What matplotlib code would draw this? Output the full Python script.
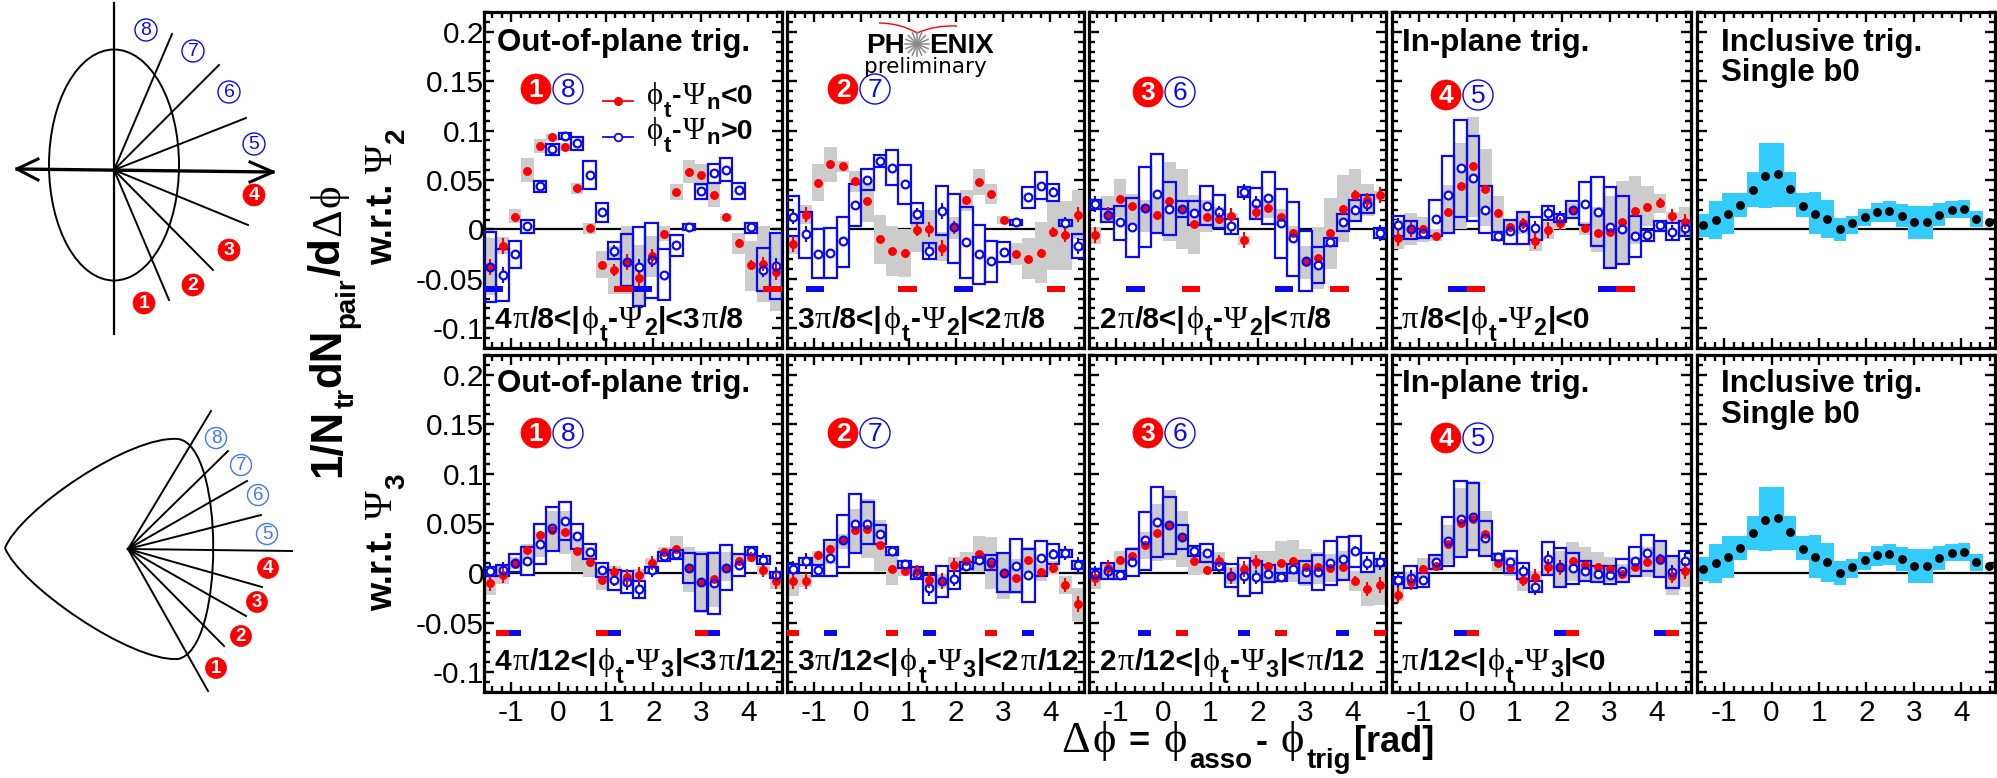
import re
import numpy as np
import matplotlib
matplotlib.use('Agg')
import matplotlib.pyplot as plt
from matplotlib.patches import Circle, Ellipse, PathPatch
from matplotlib.path import Path
from matplotlib.ticker import MultipleLocator

plt.rcParams['font.family'] = ['Liberation Sans', 'DejaVu Sans']
plt.rcParams['axes.unicode_minus'] = False

W, H = 1997, 778
n_bins = 24
bin_w = 2 * np.pi / n_bins
centers = -np.pi / 2 + (np.arange(n_bins) + 0.5) * bin_w

# all yields below are in units of 1e-3
# shared size of the statistical error bars
stat_err = [8, 8, 4, 3, 3, 3, 3, 3, 3, 4, 6, 8, 8, 7, 4, 3, 3, 3, 3, 3, 4, 5, 7, 8]

# w.r.t. Psi2, bin 1/8
t1_red = [-38, -17, 13, 59, 84, 94, 83, 42, 1, -36, -41, -33, -49, -27, -5, 38, 58, 55, 35, 13, -14, -36, -35, -43]
t1_red_hi = [-9, -8, 21, 72, 91, 97, 87, 47, 6, -22, -17, 3, -16, -7, 3, 46, 70, 66, 48, 16, -4, -12, 3, -3]
t1_red_lo = [-66, -25, 6, 48, 77, 89, 79, 36, -5, -49, -65, -65, -78, -48, -12, 30, 47, 44, 23, 9, -25, -62, -73, -83]
t1_blue = [-38, -46, -25, 3, 44, 81, 95, 87, 55, 18, -22, -33, -38, -31, -46, -16, 2, 39, 57, 60, 40, 2, -41, -37]
t1_blue_hi = [-3, -20, -12, 10, 49, 86, 98, 94, 69, 27, -13, -5, 2, 6, -20, -6, 5, 46, 66, 72, 47, 6, -19, -4]
t1_blue_lo = [-73, -72, -39, -4, 38, 75, 91, 80, 41, 8, -30, -57, -77, -69, -71, -27, -1, 31, 47, 49, 31, -4, -62, -70]

# w.r.t. Psi2, bin 2/7
t2_red = [-15, 15, 47, 66, 64, 49, 29, -10, -22, -24, -1, 0, -19, 2, 30, 48, 36, 10, -25, -30, -24, -3, -6, 15]
t2_red_hi = [-7, 25, 66, 83, 69, 59, 50, 15, 3, 0, 20, 20, -3, 13, 40, 61, 46, 14, -14, -9, 7, 28, 29, 40]
t2_red_lo = [-25, 5, 29, 48, 58, 38, 7, -35, -47, -48, -23, -20, -32, -10, 19, 35, 26, 5, -36, -50, -54, -41, -41, -10]
t2_blue = [13, -5, -25, -24, -12, 25, 50, 69, 62, 46, 16, -22, 19, 2, -13, -25, -32, -23, 7, 33, 44, 38, 6, -17]
t2_blue_hi = [34, 18, 0, 1, 13, 46, 61, 75, 80, 65, 27, -14, 44, 36, 23, 4, -12, -13, 10, 43, 58, 46, 10, -5]
t2_blue_lo = [-7, -29, -49, -49, -38, 3, 40, 63, 45, 26, 6, -30, -6, -34, -49, -55, -53, -33, 4, 22, 31, 29, 3, -29]

# w.r.t. Psi2, bin 3/6
t3_red = [-6, 15, 31, 24, 22, 15, 29, 21, 5, 13, 11, 14, -11, 18, 22, 13, -4, -33, -29, -4, 21, 35, 30, 35]
t3_red_hi = [2, 34, 51, 36, 30, 34, 68, 61, 35, 30, 23, 17, -7, 27, 34, 21, 3, -17, 2, 32, 55, 61, 46, 39]
t3_red_lo = [-15, 8, 13, 3, -3, -3, -12, -20, -25, -3, 0, 10, -16, 10, 12, 3, -12, -50, -60, -40, -13, 8, 14, 30]
t3_blue = [26, 15, 7, 2, 22, 36, 21, 21, 17, 24, 18, 3, 38, 27, 32, 6, -9, -32, -36, -13, 7, 20, 26, -4]
t3_blue_hi = [30, 21, 24, 32, 63, 76, 48, 29, 29, 44, 35, 11, 43, 42, 58, 41, 28, -2, -18, -9, 16, 30, 35, 1]
t3_blue_lo = [21, 8, -11, -28, -18, -4, -6, 13, 4, 4, 1, -5, 33, 11, 5, -29, -47, -62, -54, -17, -2, 9, 17, -9]

# w.r.t. Psi2, bin 4/5
t4_red = [-9, 0, 0, -7, 18, 44, 64, 41, 17, 2, 6, -12, -1, 6, 20, 1, -4, -3, 8, 19, 23, 27, 14, 8]
t4_red_hi = [10, 17, 13, 0, 45, 87, 114, 81, 34, 10, 17, -2, 8, 12, 27, 8, 23, 34, 49, 54, 44, 36, 18, 23]
t4_red_lo = [-20, -16, -13, -12, -3, 0, 13, 3, -2, -7, -5, -22, -10, 0, 13, -6, -23, -39, -34, -15, 3, 17, 8, -8]
t4_blue = [4, 0, -4, 11, 35, 62, 52, 20, -7, -2, 2, 1, 17, 12, 20, 26, 18, 2, 0, -7, -6, 4, -3, 1]
t4_blue_hi = [14, 9, 0, 30, 74, 111, 95, 44, -3, 10, 18, 13, 24, 16, 29, 48, 53, 43, 34, 14, -1, 9, 6, 9]
t4_blue_lo = [-7, -10, -9, -7, -4, 13, 9, -4, -11, -15, -15, -11, 10, 8, 12, 4, -17, -39, -35, -28, -12, -2, -11, -7]

# inclusive trigger, same in both rows
inc = [4, 10, 16, 25, 40, 54, 56, 41, 24, 16, 11, 0, 6, 13, 18, 19, 14, 7, 7, 15, 20, 21, 11, 7]
inc_hi = [16, 29, 37, 37, 58, 87, 87, 58, 37, 38, 30, 12, 14, 21, 27, 29, 26, 24, 24, 27, 29, 30, 19, 7]
inc_lo = [-8, -10, -5, 13, 23, 22, 23, 23, 13, -5, -9, -12, -5, 3, 7, 8, 2, -10, -10, 3, 12, 12, 2, 7]

# w.r.t. Psi3, bin 1/8
b1_red = [-10, -2, 9, 23, 38, 43, 41, 22, 11, -7, 1, -4, -2, 10, 21, 24, 5, -9, -6, 5, 12, 16, 3, -8]
b1_red_hi = [0, 7, 16, 29, 41, 63, 63, 41, 26, 2, 7, 1, 4, 15, 26, 37, 26, 22, 22, 21, 19, 22, 7, -2]
b1_red_lo = [-22, -11, 4, 9, 16, 22, 19, 2, -4, -17, -8, -13, -9, 4, 15, 13, -19, -40, -34, -8, 6, 11, -2, -16]
b1_blue = [2, 3, 10, 12, 29, 45, 53, 37, 21, 3, -7, -9, -16, 3, 17, 19, 5, -9, -10, 5, 8, 22, 13, -2]
b1_blue_hi = [6, 8, 19, 26, 49, 67, 72, 49, 29, 10, 3, 2, -8, 6, 21, 23, 20, 19, 20, 28, 19, 26, 17, 1]
b1_blue_lo = [-3, -3, 1, -2, 9, 22, 33, 24, 14, -4, -17, -20, -25, 0, 12, 14, -10, -38, -41, -17, -3, 18, 9, -5]

# w.r.t. Psi3, bin 2/7
b2_red = [-8, -8, 18, 24, 33, 43, 44, 28, 4, 2, 2, -7, -8, 8, 12, 19, 9, 0, -5, 13, 1, 5, -12, -31]
b2_red_hi = [-1, -2, 22, 31, 39, 65, 75, 54, 19, 9, 7, -2, -1, 16, 21, 37, 36, 21, 14, 26, 9, 12, -3, -15]
b2_red_lo = [-23, -14, 9, 9, 24, 20, 15, 2, -12, -3, -4, -14, -15, 1, 2, 1, -16, -26, -21, 1, -8, -1, -21, -48]
b2_blue = [4, 12, 3, 15, 33, 49, 50, 39, 22, 9, -1, -15, -8, -6, 7, 13, 11, 0, 7, -2, 15, 19, 20, 8]
b2_blue_hi = [9, 15, 8, 33, 59, 80, 72, 48, 26, 12, 6, -2, 7, 2, 11, 16, 18, 20, 34, 24, 32, 29, 23, 12]
b2_blue_lo = [0, 8, -3, -3, 6, 20, 29, 29, 18, 5, -6, -30, -24, -16, 4, 10, 3, -19, -19, -29, -3, 9, 16, 4]

# w.r.t. Psi3, bin 3/6
b3_red = [-5, 5, 13, 17, 28, 40, 48, 36, 12, 3, 12, -3, 4, 11, 7, 10, 12, 6, 6, 5, 6, -8, -16, -12]
b3_red_hi = [6, 9, 22, 26, 41, 70, 84, 63, 26, 21, 21, 6, 9, 22, 22, 32, 33, 24, 21, 19, 22, 2, 1, 6]
b3_red_lo = [-16, -6, 2, 9, 14, 12, 13, 6, -2, -1, 2, -11, -4, -1, -8, -9, -9, -13, -11, -9, -8, -18, -33, -32]
b3_blue = [-1, 2, -2, 11, 33, 52, 48, 36, 22, 20, 7, -3, -3, -4, -1, -4, 4, 1, 1, 10, 14, 22, 10, 11]
b3_blue_hi = [4, 10, 2, 24, 62, 87, 77, 48, 27, 29, 10, 9, 15, 12, 8, 0, 9, 12, 18, 32, 36, 37, 20, 14]
b3_blue_lo = [-5, -6, -6, -3, 3, 16, 19, 24, 17, 11, 3, -14, -23, -20, -9, -8, 0, -10, -17, -12, -7, 6, 1, 7]

# w.r.t. Psi3, bin 4/5
b4_red = [-22, -9, 4, 7, 29, 51, 55, 39, 10, 5, -7, -4, 6, 5, 12, 8, 6, 4, -1, 6, 11, 13, -3, 2]
b4_red_hi = [-4, 1, 15, 17, 48, 86, 93, 63, 21, 16, 4, 2, 16, 22, 31, 26, 21, 16, 9, 16, 26, 31, 16, 12]
b4_red_lo = [-28, -16, -6, 2, 9, 16, 22, 16, 2, -3, -18, -9, -3, -13, -8, -8, -8, -9, -9, -4, -4, -4, -22, -14]
b4_blue = [-7, -5, -7, 11, 32, 55, 57, 35, 16, 11, 2, -14, 14, 6, 5, 2, -1, -2, 2, 12, 20, 14, 1, 12]
b4_blue_hi = [-4, 7, 0, 18, 57, 93, 91, 53, 19, 22, 10, -8, 31, 25, 20, 12, 7, 7, 14, 26, 38, 32, 17, 22]
b4_blue_lo = [-11, -15, -14, 4, 7, 16, 23, 17, 13, 0, -6, -19, -2, -14, -11, -8, -9, -11, -9, -3, 2, -4, -15, 3]

# start of the ZYAM range bars, in radians
t_blue_bars = [[-1.571, 1.571], [-1.178, 1.964], [-0.785, 2.356], [-0.393, 2.749]]
t_red_bars = [[1.178, 4.320], [0.785, 3.927], [0.393, 3.534], [0.0, 3.142]]
b_blue_bars = [[-1.047, 1.047, 3.142], [-0.785, 1.309, 3.403], [-0.524, 1.571, 3.665], [-0.262, 1.833, 3.927]]
b_red_bars = [[-1.309, 0.785, 2.880], [-1.571, 0.524, 2.618], [0.262, 2.356, 4.451], [0.0, 2.094, 4.189]]

top_labels = ['4π/8<|ϕ_t-Ψ_2|<3π/8', '3π/8<|ϕ_t-Ψ_2|<2π/8', '2π/8<|ϕ_t-Ψ_2|<π/8', 'π/8<|ϕ_t-Ψ_2|<0']
bot_labels = ['4π/12<|ϕ_t-Ψ_3|<3π/12', '3π/12<|ϕ_t-Ψ_3|<2π/12', '2π/12<|ϕ_t-Ψ_3|<π/12', 'π/12<|ϕ_t-Ψ_3|<0']
titles = ['Out-of-plane trig.', None, None, 'In-plane trig.']
y_ticks = [-0.1, -0.05, 0, 0.05, 0.1, 0.15, 0.2]
y_ticklabels = ['-0.1', '-0.05', '0', '0.05', '0.1', '0.15', '0.2']
x_ticks = [-1, 0, 1, 2, 3, 4]

RED = '#ff0000'
BLUE = '#0a0af0'
GRAY = '#cccccc'
CYAN = '#33ccff'

fig = plt.figure(figsize=(W / 100, H / 100), dpi=100)

panel_x = [(484, 782), (787, 1084), (1089, 1386), (1392, 1691), (1697, 1995)]
row_y = [(12, 348), (355, 692)]


def make_axes(col, row):
    x0, x1 = panel_x[col]
    y0, y1 = row_y[row]
    ax = fig.add_axes([x0 / W, 1 - y1 / H, (x1 - x0) / W, (y1 - y0) / H])
    ax.set_xlim(-np.pi / 2, 3 * np.pi / 2)
    ax.set_ylim(-0.12, 0.22)
    ax.set_xticks(x_ticks)
    ax.set_yticks(y_ticks)
    ax.xaxis.set_minor_locator(MultipleLocator(0.2))
    ax.yaxis.set_minor_locator(MultipleLocator(0.01))
    ax.tick_params(which='both', direction='in', top=True, right=True, width=1.7)
    ax.tick_params(which='major', length=7.5, labelsize=21.5)
    ax.tick_params(which='minor', length=4)
    ax.tick_params(axis='x', pad=5)
    ax.tick_params(axis='y', pad=0)
    if row == 1:
        ax.set_xticklabels([str(v) for v in x_ticks])
    else:
        ax.set_xticklabels([])
    if col == 0:
        ax.set_yticklabels(y_ticklabels)
    else:
        ax.set_yticklabels([])
    for s in ax.spines.values():
        s.set_linewidth(2.3)
    ax.axhline(0, color='k', lw=1.6, zorder=1)
    return ax


def draw_pairs(ax, red, red_hi, red_lo, blue, blue_hi, blue_lo, blue_bars, red_bars, bar_w):
    red, red_hi, red_lo = [np.array(a) / 1000 for a in (red, red_hi, red_lo)]
    blue, blue_hi, blue_lo = [np.array(a) / 1000 for a in (blue, blue_hi, blue_lo)]
    err = np.array(stat_err) / 1000
    ax.bar(centers, blue_hi - blue_lo, bottom=blue_lo, width=bin_w, color='white', zorder=1.5)
    ax.bar(centers, red_hi - red_lo, bottom=red_lo, width=bin_w, color=GRAY, zorder=2)
    ax.bar(centers, blue_hi - blue_lo, bottom=blue_lo, width=bin_w, facecolor='none',
           edgecolor=BLUE, lw=1.6, zorder=3)
    ax.bar(blue_bars, 0.006, bottom=-0.063, width=bar_w, align='edge', color=BLUE, zorder=3)
    ax.bar(red_bars, 0.006, bottom=-0.063, width=bar_w, align='edge', color=RED, zorder=3)
    # blue stat bars stay under the white centre of the open circles
    ax.errorbar(centers, blue, yerr=err, fmt='none', ecolor=BLUE, elinewidth=1.5, zorder=3.5)
    ax.plot(centers, blue, 'o', ms=5.6, mfc='white', mec='none', zorder=4)
    ax.errorbar(centers, red, yerr=err, fmt='o', ms=5.4, color=RED, elinewidth=1.5, zorder=5)
    ax.plot(centers, blue, 'o', ms=5.6, mfc='none', mec=BLUE, mew=1.6, zorder=6)


def draw_inclusive(ax):
    y, hi, lo = [np.array(a) / 1000 for a in (inc, inc_hi, inc_lo)]
    ax.bar(centers, hi - lo, bottom=lo, width=bin_w, color=CYAN, zorder=2)
    ax.plot(centers, y, 'o', ms=5.4, color='k', clip_on=True, zorder=5)


top_sets = [
    (t1_red, t1_red_hi, t1_red_lo, t1_blue, t1_blue_hi, t1_blue_lo),
    (t2_red, t2_red_hi, t2_red_lo, t2_blue, t2_blue_hi, t2_blue_lo),
    (t3_red, t3_red_hi, t3_red_lo, t3_blue, t3_blue_hi, t3_blue_lo),
    (t4_red, t4_red_hi, t4_red_lo, t4_blue, t4_blue_hi, t4_blue_lo),
]
bot_sets = [
    (b1_red, b1_red_hi, b1_red_lo, b1_blue, b1_blue_hi, b1_blue_lo),
    (b2_red, b2_red_hi, b2_red_lo, b2_blue, b2_blue_hi, b2_blue_lo),
    (b3_red, b3_red_hi, b3_red_lo, b3_blue, b3_blue_hi, b3_blue_lo),
    (b4_red, b4_red_hi, b4_red_lo, b4_blue, b4_blue_hi, b4_blue_lo),
]
for col in range(4):
    draw_pairs(make_axes(col, 0), *top_sets[col], t_blue_bars[col], t_red_bars[col], 0.393)
    draw_pairs(make_axes(col, 1), *bot_sets[col], b_blue_bars[col], b_red_bars[col], 0.262)
draw_inclusive(make_axes(4, 0))
draw_inclusive(make_axes(4, 1))

# overlay in image pixels for the annotations and the sketches on the left
ov = fig.add_axes([0, 0, 1, 1], zorder=10)
ov.set_xlim(0, W)
ov.set_ylim(H, 0)
ov.axis('off')
ov.patch.set_alpha(0)
renderer = fig.canvas.get_renderer()


def rich(x, y, s, size=17.5, sub_size=None, drops=None, greek_size=None, rot=0, weight='bold', gap=1):
    # lay out mixed bold sans / serif greek / subscripts piece by piece
    sub_size = sub_size or size * 0.78
    greek_size = greek_size or size * 1.08
    drops = drops or {'t': 13}
    for tok in re.findall(r'_\{[^}]*\}|_.|[πϕΨΔ]|[^_πϕΨΔ]+', s):
        kw = dict(fontsize=size, fontweight=weight, family='Liberation Sans')
        dy = 0
        if tok[0] == '_':
            tok = tok[1:].strip('{}')
            kw['fontsize'] = sub_size
            dy = drops.get(tok[0], 7)
        elif tok in 'πϕΨΔ':
            kw.update(fontsize=greek_size, fontweight='normal', family=['Liberation Serif', 'DejaVu Serif'])
        if rot:
            t = ov.text(x + dy, y, tok, rotation=90, rotation_mode='anchor', ha='left',
                        va='baseline', color='k', **kw)
            y -= t.get_window_extent(renderer).height + gap
        else:
            t = ov.text(x, y + dy, tok, ha='left', va='baseline', color='k', **kw)
            x += t.get_window_extent(renderer).width + gap


def badge(x, y, digit, filled, r=15, ring=BLUE, size=19, lw=1.0):
    if filled:
        ov.add_patch(Circle((x, y), r, fc=RED, ec=RED, lw=0.5))
        ov.text(x, y + 0.5, digit, color='white', fontsize=size, fontweight='bold', ha='center', va='center')
    else:
        ov.add_patch(Circle((x, y), r, fc='white', ec=ring, lw=lw))
        ov.text(x, y + 0.5, digit, color=ring, fontsize=size, ha='center', va='center')


title_x = [497, None, None, 1402]
label_x = [495, 797, 1100, 1402]
badge_pos = [(536, 568), (843, 875), (1148, 1180), (1446, 1478)]
badge_y_top = [89, 89, 92, 95]
badge_y_bot = [433, 433, 433, 438]
badge_digits = [('1', '8'), ('2', '7'), ('3', '6'), ('4', '5')]
for col in range(4):
    if titles[col]:
        ov.text(title_x[col], 51, titles[col], fontsize=22.5, fontweight='bold', va='baseline')
        ov.text(title_x[col], 392, titles[col], fontsize=22.5, fontweight='bold', va='baseline')
    rich(label_x[col], 328, top_labels[col], size=21.5)
    rich(label_x[col], 670, bot_labels[col], size=21.5)
    for y in (badge_y_top[col], badge_y_bot[col]):
        badge(badge_pos[col][0], y, badge_digits[col][0], True)
        badge(badge_pos[col][1], y, badge_digits[col][1], False)
ov.text(1721, 51, 'Inclusive trig.', fontsize=22.5, fontweight='bold', va='baseline')
ov.text(1721, 81, 'Single b0', fontsize=22.5, fontweight='bold', va='baseline')
ov.text(1721, 392, 'Inclusive trig.', fontsize=22.5, fontweight='bold', va='baseline')
ov.text(1721, 423, 'Single b0', fontsize=22.5, fontweight='bold', va='baseline')

# legend of the first panel
ov.plot([603, 633], [101, 101], color=RED, lw=1.3)
ov.plot([618], [101], 'o', ms=5.5, color=RED)
ov.plot([603, 633], [137, 137], color=BLUE, lw=1.3)
ov.plot([618], [137], 'o', ms=5.5, mfc='white', mec=BLUE, mew=1.3)
rich(647, 104, 'ϕ_t-Ψ_n<0', size=20.5, greek_size=22, drops={'t': 13, 'n': 5})
rich(647, 139, 'ϕ_t-Ψ_n>0', size=20.5, greek_size=22, drops={'t': 13, 'n': 5})

# PHENIX preliminary mark
ov.text(866, 53, 'PH', fontsize=20, fontweight='bold', va='baseline')
ov.text(929, 53, 'ENIX', fontsize=20, fontweight='bold', va='baseline')
for ang in np.arange(0, np.pi, np.pi / 8):
    ov.plot([917 - 12 * np.cos(ang), 917 + 12 * np.cos(ang)],
            [44 - 12 * np.sin(ang), 44 + 12 * np.sin(ang)], color='#888888', lw=1.1)
ov.text(864, 73, 'preliminary', fontsize=15.5, family='DejaVu Sans', va='baseline')
ov.add_patch(PathPatch(Path([(879, 23), (900, 23), (917, 33), (935, 25), (957, 26)],
                            [Path.MOVETO, Path.CURVE3, Path.CURVE3, Path.CURVE3, Path.CURVE3]),
                       fc='none', ec=RED, lw=1.0))

# axis titles
rich(1061, 752, 'Δϕ = ϕ_{asso}- ϕ_{trig}[rad]', size=26, sub_size=20, greek_size=32,
     drops={'a': 16, 't': 16}, gap=3)
rich(340, 477, '1/N_{tr}dN_{pair}/dΔϕ', size=31.5, sub_size=20, greek_size=31, rot=90,
     drops={'t': 14, 'p': 14})
rich(392, 265, 'w.r.t. Ψ_2', size=26, sub_size=20, greek_size=28, rot=90, drops={'2': 12})
rich(392, 611, 'w.r.t. Ψ_3', size=26, sub_size=20, greek_size=28, rot=90, drops={'3': 12})

# event plane sketch, second order
ov.add_patch(Ellipse((114, 165), 130, 231, fc='none', ec='k', lw=1.4))
ov.plot([114, 114], [3, 334], color='k', lw=1.6)
ov.plot([17, 273], [169, 172], color='k', lw=2.4)
ov.plot([38, 17, 38], [159, 169, 180], color='k', lw=2.2)
ov.plot([250, 273, 250], [162, 172, 182], color='k', lw=2.2)
for px, py in [(172, 34), (219, 65), (246, 118), (248, 225), (213, 270), (169, 300)]:
    ov.plot([114, px], [170, py], color='k', lw=1.4)
for (px, py), d in zip([(146, 30), (193, 51), (229, 92), (254, 144)], '8765'):
    badge(px, py, d, False, r=11, size=14)
for (px, py), d in zip([(254, 195), (229, 250), (193, 285), (144, 303)], '4321'):
    badge(px, py, d, True, r=11, size=14)

# event plane sketch, third order
tri = Path([(5, 548), (20, 510), (130, 435), (178, 439), (225, 445), (225, 650), (178, 659),
            (130, 662), (20, 585), (5, 548)],
           [Path.MOVETO] + [Path.CURVE4] * 9)
ov.add_patch(PathPatch(tri, fc='none', ec='k', lw=1.4))
for px, py in [(211, 411), (228, 451), (247, 481), (261, 515), (292, 551), (262, 587),
               (246, 616), (224, 646), (208, 691)]:
    ov.plot([128, px], [549, py], color='k', lw=1.4)
for (px, py), d in zip([(216, 438), (241, 465), (258, 495), (267, 534)], '8765'):
    badge(px, py, d, False, r=10.5, size=13.5, ring='#4477ee')
for (px, py), d in zip([(268, 568), (257, 602), (241, 636), (216, 668)], '4321'):
    badge(px, py, d, True, r=10.5, size=13.5)

fig.savefig('out.png', dpi=100)
